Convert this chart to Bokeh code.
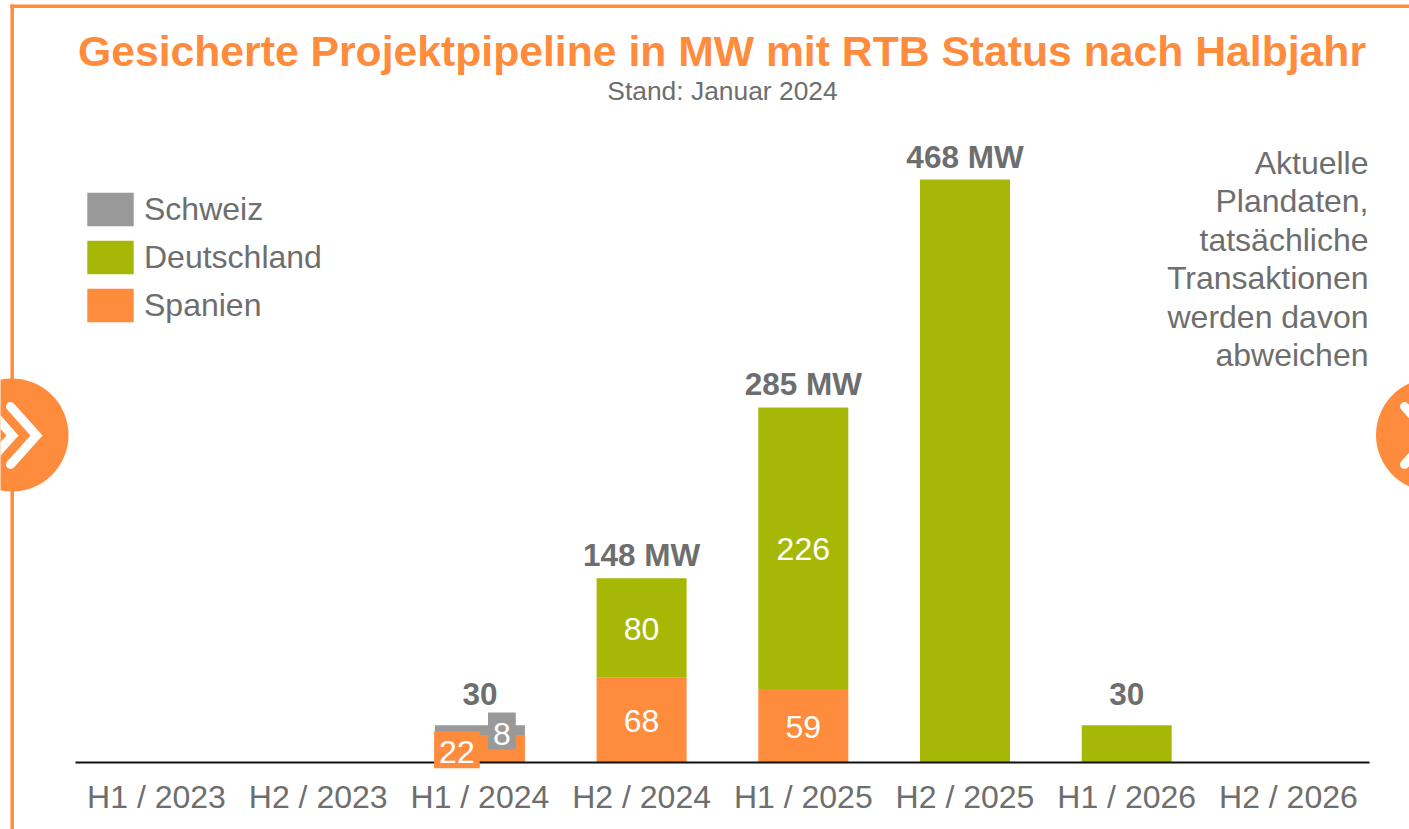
from bokeh.plotting import figure
from bokeh.models import Range1d, FixedTicker, Label, Legend, LegendItem, ColumnDataSource
from bokeh.core.properties import value
from bokeh.embed import file_html
from bokeh.resources import INLINE

categories = ["H1 / 2023", "H2 / 2023", "H1 / 2024", "H2 / 2024", "H1 / 2025", "H2 / 2025", "H1 / 2026", "H2 / 2026"]
spanien = [0, 0, 22, 68, 59, 0, 0, 0]
deutschland = [0, 0, 0, 80, 226, 468, 30, 0]
schweiz = [0, 0, 8, 0, 0, 0, 0, 0]
totals = ["", "", "30", "148 MW", "285 MW", "468 MW", "30", ""]
note_lines = ["Aktuelle", "Plandaten,", "tatsächliche", "Transaktionen", "werden davon", "abweichen"]

ORANGE = "#FF8B3D"
GREEN = "#A6B805"
GRAY = "#999999"
TEXT = "#6E6E6E"
FONT = "Liberation Sans"
W, H = 1409, 829
X0, XS = 156.0, 161.7   # pixel of first category, pixels per category
Y0, YS = 762.0, 1.2457  # pixel of zero, pixels per MW


def dx(px):
    return (px - X0) / XS


def dy(py):
    return (Y0 - py) / YS


p = figure(width=W, height=H, x_range=Range1d(dx(0), dx(W)), y_range=Range1d(dy(H), dy(0)),
           output_backend="svg", toolbar_location=None, min_border=0,
           margin=0, outline_line_color=None, background_fill_color="white")
p.grid.visible = False
p.yaxis.visible = False

# decoration: frame and round arrow buttons
p.segment(x0=[dx(10), dx(11.7)], y0=[dy(5.7), dy(4)], x1=[dx(W), dx(11.7)], y1=[dy(5.7), dy(H)],
          line_color=ORANGE, line_width=3.5)
p.scatter(x=[dx(11.5), dx(1432)], y=[dy(434.5), dy(434.5)], size=113, marker="circle",
          fill_color=ORANGE, line_color=None)
p.multi_line(xs=[[dx(a + b) for a in (0, 26, 0)] for b in (10, -14, 1404)],
             ys=[[dy(406), dy(435), dy(464)]] * 3,
             line_color="white", line_width=9, line_cap="round", line_join="miter")

# bars
x = list(range(len(categories)))
src = ColumnDataSource(dict(x=x, Spanien=spanien, Deutschland=deutschland, Schweiz=schweiz))
bars = p.vbar_stack(["Spanien", "Deutschland", "Schweiz"], x="x", width=90 / XS, source=src,
                    color=[ORANGE, GREEN, GRAY], line_color=None)

# axis
ax = p.xaxis[0]
ax.fixed_location = 0
ax.bounds = (dx(75), dx(1369))
ax.ticker = FixedTicker(ticks=x)
ax.major_label_overrides = {i: c for i, c in enumerate(categories)}
ax.major_tick_line_color = None
ax.minor_tick_line_color = None
ax.axis_line_color = "#111111"
ax.axis_line_width = 2
ax.major_label_standoff = 10
ax.major_label_text_font = FONT
ax.major_label_text_font_size = "32px"
ax.major_label_text_color = TEXT

# segment labels
lx, ly, lt = [], [], []
for i in x:
    if i == 2:
        continue
    base = 0
    for s in (spanien, deutschland):
        if s[i] and totals[i] != "468 MW" and totals[i] != "30":
            lx.append(i)
            ly.append(base + s[i] / 2)
            lt.append(str(s[i]))
        base += s[i]
p.text(x=lx, y=ly, text=lt, y_offset=1, text_color="white", text_font=value(FONT), text_font_size="32px",
       text_align="center", text_baseline="middle")

# labels with their own boxes on the small bar (padding order as Bokeh reads it: left, right, top, bottom)
p.add_layout(Label(x=2, y=spanien[2] / 2, text=str(spanien[2]), x_offset=-23, y_offset=-1, text_align="center",
                   text_baseline="middle", text_color="white", text_font=FONT, text_font_size="32px",
                   background_fill_color=ORANGE, padding=(5, 5, 10, 5)))
p.add_layout(Label(x=2, y=spanien[2] + schweiz[2] / 2, text=str(schweiz[2]), x_offset=22, y_offset=-1, text_align="center",
                   text_baseline="middle", text_color="white", text_font=FONT, text_font_size="32px",
                   background_fill_color=GRAY, padding=(5, 5, 10, 5)))

# totals
tops = [a + b + c for a, b, c in zip(spanien, deutschland, schweiz)]
p.text(x=x, y=tops, text=totals, y_offset=[0, 0, -20, -5, -5, -5, -20, 0], text_color=TEXT,
       text_font=value(FONT), text_font_size="31.5px",
       text_font_style="bold", text_align="center", text_baseline="bottom")


def screen_label(text, px, py, size, align="center", color=TEXT, style="normal"):
    p.add_layout(Label(x=px, y=H - py, x_units="screen", y_units="screen", text=text, text_align=align,
                       text_baseline="middle", text_color=color, text_font=FONT,
                       text_font_size=size, text_font_style=style))


screen_label("Gesicherte Projektpipeline in MW mit RTB Status nach Halbjahr", 721.5, 50.5, "42.7px", color=ORANGE, style="bold")
screen_label("Stand: Januar 2024", 722, 90.5, "26.4px")
for line, py in zip(note_lines, [162, 200.5, 239, 277.5, 316, 354.5]):
    screen_label(line, 1368, py, "32px", align="right")

legend = Legend(items=[LegendItem(label="Schweiz", renderers=[bars[2]]),
                       LegendItem(label="Deutschland", renderers=[bars[1]]),
                       LegendItem(label="Spanien", renderers=[bars[0]])],
                location=(81, H - 326), orientation="vertical", glyph_width=58, glyph_height=42, spacing=6,
                padding=0, margin=0, border_line_color=None, background_fill_alpha=0,
                label_text_font=FONT, label_text_font_size="32px", label_text_color=TEXT, label_standoff=5,
                label_height=42)
p.add_layout(legend)

open("out.html", "w").write(file_html(p, INLINE))
